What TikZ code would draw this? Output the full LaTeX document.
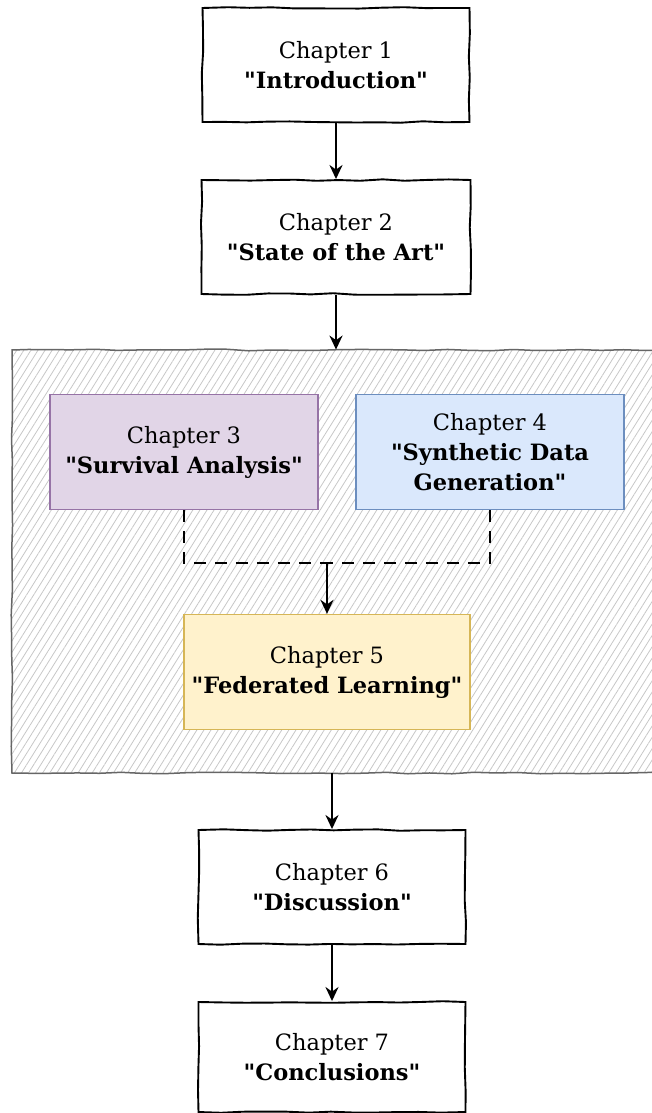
\documentclass[tikz,border=0pt]{standalone}
\usepackage{fontspec}
\setmainfont{DejaVu Serif}
\usetikzlibrary{arrows.meta,patterns.meta,decorations.pathmorphing}

\newcommand\qtitle[1]{\textbf{\textquotedbl#1\textquotedbl}}
\tikzset{
  sketch/.style={decorate, decoration={random steps, segment length=22pt, amplitude=0.8pt}},
  chapbox/.style={draw, line width=1.9pt, sketch, fill=white, align=center,
                  minimum width=267pt, minimum height=114pt,
                  font=\fontsize{22.5}{30}\selectfont},
  partbox/.style={draw=black!60, line width=1.5pt, sketch,
                  pattern={Lines[angle=58, distance=6pt, line width=0.8pt]},
                  pattern color=black!22, minimum width=655pt, minimum height=423pt},
  colbox/.style={draw=#1, line width=1.3pt, align=center, minimum width=268pt,
                 minimum height=115pt, font=\fontsize{22.5}{30}\selectfont},
  flow/.style={line width=2.4pt, -{Stealth[length=14pt, width=13pt]}},
  link/.style={line width=2.2pt, dash pattern=on 12pt off 9pt},
}
\definecolor{violetfill}{HTML}{E1D5E7}
\definecolor{violetline}{HTML}{9673A6}
\definecolor{bluefill}{HTML}{DAE8FC}
\definecolor{blueline}{HTML}{6C8EBF}
\definecolor{yellowfill}{HTML}{FFF2CC}
\definecolor{yellowline}{HTML}{D6B656}

\begin{document}
\begin{tikzpicture}[x=1pt, y=-1pt]
\useasboundingbox (0,0) rectangle (652,1113);
\clip (0,0) rectangle (652,1113);

% chapters before the core part
\node[chapbox] (ch1) at (336,65) {Chapter 1\\\qtitle{Introduction}};
\node[chapbox, minimum width=269pt] (ch2) at (336,237) {Chapter 2\\\qtitle{State of the Art}};

% core part of the thesis
\node[partbox] (part) at (339.5,561.5) {};
\node[colbox=violetline, fill=violetfill] (ch3) at (184,452) {Chapter 3\\\qtitle{Survival Analysis}};
\node[colbox=blueline, fill=bluefill] (ch4) at (490,452) {Chapter 4\\\textbf{\textquotedbl Synthetic Data}\\\textbf{Generation\textquotedbl}};
\node[colbox=yellowline, fill=yellowfill, minimum width=286pt] (ch5) at (327,672) {Chapter 5\\\qtitle{Federated Learning}};
\coordinate (join) at (327,563);

% chapters after the core part
\node[chapbox] (ch6) at (332,887) {Chapter 6\\\qtitle{Discussion}};
\node[chapbox, minimum height=110pt] (ch7) at (332,1057) {Chapter 7\\\qtitle{Conclusions}};

\draw[flow] (ch1) -- (ch2);
\draw[flow] (ch2.south) -- (ch2.south |- part.north);
\draw[link] (ch3.south) |- (join);
\draw[link] (ch4.south) |- (join);
\draw[flow] (join) -- (ch5.north);
\draw[flow] (part.south -| ch6.north) -- (ch6.north);
\draw[flow] (ch6) -- (ch7);
\end{tikzpicture}
\end{document}
